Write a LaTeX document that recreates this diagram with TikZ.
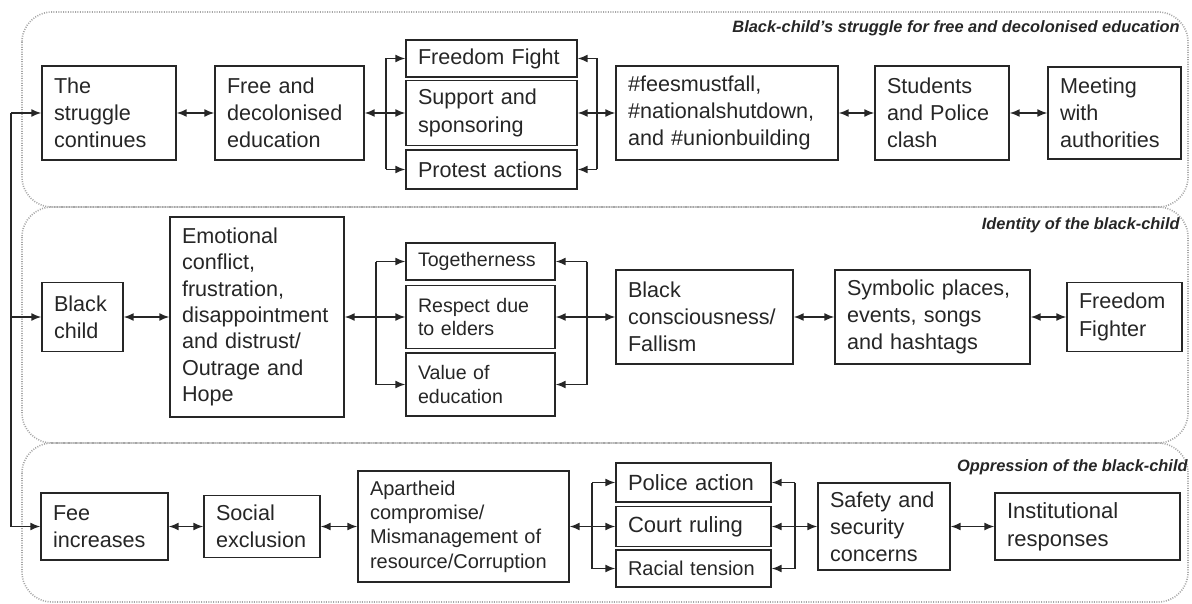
\documentclass[tikz,border=0pt]{standalone}
\usepackage{fontspec}
\setmainfont{Liberation Sans}
\usetikzlibrary{arrows.meta}

\begin{document}
\begin{tikzpicture}[x=0.5pt,y=0.5pt,yscale=-1,
  box/.style={draw=black!85, text=black!85, line width=0.7pt, inner xsep=6pt, inner ysep=1pt, align=left, font=\fontsize{10.8}{13.6}\selectfont},
  smallbox/.style={box, font=\fontsize{9.8}{11.7}\selectfont},
  panel/.style={draw=gray!70, line width=0.8pt, dash pattern=on 0.5pt off 0.7pt, rounded corners=15pt},
  title/.style={anchor=east, inner sep=0pt, text=black!85, font=\fontsize{8.2}{10}\selectfont\bfseries\itshape},
  arr/.style={-{Latex[length=5pt,width=4pt]}, line width=0.75pt, black!85},
  biarr/.style={{Latex[length=5pt,width=4pt]}-{Latex[length=5pt,width=4pt]}, line width=0.75pt, black!85},
  bar/.style={line width=0.75pt, black!85}]
\useasboundingbox (0,0) rectangle (1192,604);

%Shape: Rounded Rect
\draw[panel] (22,12) rectangle (1188,207);
\draw[panel] (22,207) rectangle (1188,443);
\draw[panel] (22,443) rectangle (1188,602);

% Text Node
\node[title] (t1) at (1180,28) {Black-child's struggle for free and decolonised education};
% Text Node
\node[title] (t2) at (1180,225) {Identity of the black-child};
% Text Node
\node[title] (t3) at (1188,467) {Oppression of the black-child};

% Text Node
\node[box, text width=55pt, minimum height=47pt] (cont) at (109,113) {The\\struggle\\continues};
% Text Node
\node[box, text width=62.5pt, minimum height=47pt] (free) at (289.5,113) {Free and\\decolonised\\education};
% Text Node
\node[box, text width=73.5pt, minimum height=18.5pt] (fight) at (491.5,58.5) {Freedom Fight};
% Text Node
\node[box, text width=73.5pt, minimum height=32.5pt] (support) at (491.5,113) {Support and\\sponsoring};
% Text Node
\node[box, text width=73.5pt, minimum height=19.5pt] (protest) at (491.5,169.5) {Protest actions};
% Text Node
\node[box, text width=99pt, minimum height=47pt] (hash) at (727,113) {\#feesmustfall,\\\#nationalshutdown,\\and \#unionbuilding};
% Text Node
\node[box, text width=55pt, minimum height=47pt] (clash) at (942,113) {Students\\and Police\\clash};
% Text Node
\node[box, text width=54.5pt, minimum height=46pt] (meet) at (1114.5,113) {Meeting\\with\\authorities};

% Text Node
\node[box, text width=28.5pt, minimum height=34.5pt] (black) at (82.5,317) {Black\\child};
% Text Node
\node[box, text width=75pt, minimum height=100pt, font=\fontsize{10.8}{13.2}\selectfont] (emo) at (257,317) {Emotional\\conflict,\\frustration,\\disappointment\\and distrust/\\Outrage and\\Hope};
% Text Node
\node[smallbox, text width=62.5pt, minimum height=18.5pt] (tog) at (480.5,261.5) {Togetherness};
% Text Node
\node[smallbox, text width=62.5pt, minimum height=31.5pt] (resp) at (480.5,317) {Respect due\\to elders};
% Text Node
\node[smallbox, text width=62.5pt, minimum height=31.5pt] (value) at (480.5,384.5) {Value of\\education};
% Text Node
\node[box, text width=76.5pt, minimum height=47pt] (bc) at (704.5,317) {Black\\consciousness/\\Fallism};
% Text Node
\node[box, text width=85.5pt, minimum height=47pt] (sym) at (932.5,317) {Symbolic places,\\events, songs\\and hashtags};
% Text Node
\node[box, text width=45.5pt, minimum height=34.5pt] (ff) at (1124.5,317) {Freedom\\Fighter};

% Text Node
\node[box, text width=51.5pt, minimum height=33.5pt] (fee) at (104.5,526.5) {Fee\\increases};
% Text Node
\node[box, text width=46pt, minimum height=31pt] (social) at (262,526.5) {Social\\exclusion};
% Text Node
\node[box, text width=93.5pt, minimum height=55.5pt, font=\fontsize{10}{12.2}\selectfont] (apart) at (463.5,526.5) {Apartheid\\compromise/\\Mismanagement of\\resource/Corruption};
% Text Node
\node[box, text width=65.5pt, minimum height=19.5pt, font=\fontsize{11}{13}\selectfont] (police) at (693.5,482.5) {Police action};
% Text Node
\node[box, text width=65.5pt, minimum height=20pt, font=\fontsize{11}{13}\selectfont] (court) at (693.5,526.5) {Court ruling};
% Text Node
\node[box, text width=65.5pt, minimum height=18.5pt, font=\fontsize{10}{12}\selectfont] (racial) at (693.5,568.5) {Racial tension};
% Text Node
\node[box, text width=54pt, minimum height=43.5pt] (safety) at (884,526.5) {Safety and\\security\\concerns};
% Text Node
\node[box, text width=80.5pt, minimum height=33.5pt, font=\fontsize{11}{14}\selectfont] (inst) at (1087.5,526.5) {Institutional\\responses};

\coordinate (lt) at (11,113);
\coordinate (jl1) at (386,113);
\coordinate (jr1) at (597,113);
\coordinate (jl2) at (376,317);
\coordinate (jr2) at (587,317);
\coordinate (jl3) at (592,526.5);
\coordinate (jr3) at (795,526.5);

%Straight Lines
\draw[bar] (lt) -- (lt |- fee.west);
\draw[arr] (lt) -- (cont.west);
\draw[arr] (lt |- black.west) -- (black.west);
\draw[arr] (lt |- fee.west) -- (fee.west);

%Straight Lines
\draw[biarr] (cont) -- (free);
\draw[arr] (jl1) -- (free.east);
\draw[bar] (jl1 |- fight.west) -- (jl1 |- protest.west);
\draw[arr] (jl1 |- fight.west) -- (fight.west);
\draw[arr] (jl1) -- (support.west);
\draw[arr] (jl1 |- protest.west) -- (protest.west);
\draw[bar] (jr1 |- fight.east) -- (jr1 |- protest.east);
\draw[arr] (jr1 |- fight.east) -- (fight.east);
\draw[arr] (jr1) -- (support.east);
\draw[arr] (jr1 |- protest.east) -- (protest.east);
\draw[arr] (jr1) -- (hash.west);
\draw[biarr] (hash) -- (clash);
\draw[biarr] (clash) -- (meet);

%Straight Lines
\draw[biarr] (black) -- (emo);
\draw[arr] (jl2) -- (emo.east);
\draw[bar] (jl2 |- tog.west) -- (jl2 |- value.west);
\draw[arr] (jl2 |- tog.west) -- (tog.west);
\draw[arr] (jl2) -- (resp.west);
\draw[arr] (jl2 |- value.west) -- (value.west);
\draw[bar] (jr2 |- tog.east) -- (jr2 |- value.east);
\draw[arr] (jr2 |- tog.east) -- (tog.east);
\draw[arr] (jr2) -- (resp.east);
\draw[arr] (jr2 |- value.east) -- (value.east);
\draw[arr] (jr2) -- (bc.west);
\draw[biarr] (bc) -- (sym);
\draw[biarr] (sym) -- (ff);

%Straight Lines
\draw[biarr] (fee) -- (social);
\draw[biarr] (social) -- (apart);
\draw[arr] (jl3) -- (apart.east);
\draw[bar] (jl3 |- police.west) -- (jl3 |- racial.west);
\draw[arr] (jl3 |- police.west) -- (police.west);
\draw[arr] (jl3) -- (court.west);
\draw[arr] (jl3 |- racial.west) -- (racial.west);
\draw[bar] (jr3 |- police.east) -- (jr3 |- racial.east);
\draw[arr] (jr3 |- police.east) -- (police.east);
\draw[arr] (jr3) -- (court.east);
\draw[arr] (jr3 |- racial.east) -- (racial.east);
\draw[arr] (jr3) -- (safety.west);
\draw[biarr] (safety) -- (inst);

\end{tikzpicture}
\end{document}
